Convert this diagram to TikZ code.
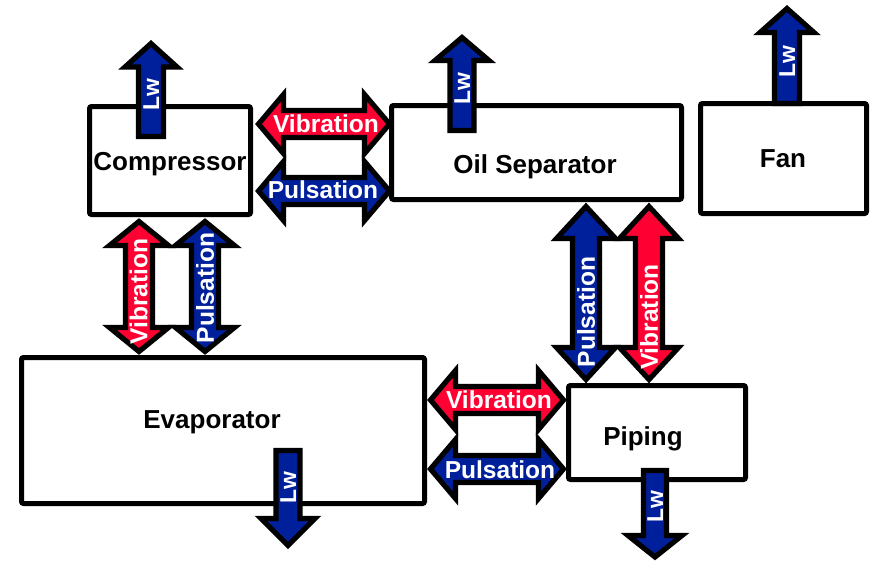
\documentclass[tikz,border=0pt]{standalone}
\usepackage{fontspec}
\setmainfont{Liberation Sans}
\definecolor{vred}{RGB}{255,0,51}
\definecolor{pblue}{RGB}{0,32,155}
\tikzset{
  box/.style={draw=black, line width=3.75pt, rounded corners=1.5pt, fill=white},
  fat/.style={draw=black, line width=3.9pt, line join=miter, miter limit=10},
  lbl/.style={font=\fontsize{19.5}{20}\selectfont\bfseries, text=black, inner sep=0pt, anchor=base},
  atxt/.style={font=\fontsize{18.4}{19}\selectfont\bfseries, text=white, inner sep=0pt, text height=13.2pt, text depth=0pt, anchor=center},
  lwtxt/.style={font=\fontsize{17.2}{18}\selectfont\bfseries, text=white, inner sep=0pt, text height=12.3pt, text depth=0pt, anchor=center, rotate=90},
}
% horizontal double arrow: xl, xr, yc, head length, colour
\newcommand\hdbl[5]{%
  \filldraw[fat, fill=#5] (#1,#3) -- ({#1+#4},{#3-29.5}) -- ({#1+#4},{#3-13.5}) -- ({#2-#4},{#3-13.5}) -- ({#2-#4},{#3-29.5}) -- (#2,#3)
    -- ({#2-#4},{#3+29.5}) -- ({#2-#4},{#3+13.5}) -- ({#1+#4},{#3+13.5}) -- ({#1+#4},{#3+29.5}) -- cycle;}
% vertical double arrow: yt, yb, xc, head length, colour
\newcommand\vdbl[5]{%
  \filldraw[fat, fill=#5] (#3,#1) -- ({#3-29.5},{#1+#4}) -- ({#3-13.5},{#1+#4}) -- ({#3-13.5},{#2-#4}) -- ({#3-29.5},{#2-#4}) -- (#3,#2)
    -- ({#3+29.5},{#2-#4}) -- ({#3+13.5},{#2-#4}) -- ({#3+13.5},{#1+#4}) -- ({#3+29.5},{#1+#4}) -- cycle;}
% single vertical arrow: xc, tip y, head length (signed), shaft end y, head half, shaft half
\newcommand\lwarrow[6]{%
  \filldraw[fat, fill=pblue] (#1,#2) -- ({#1+#5},{#2+#3}) -- ({#1+#6},{#2+#3}) -- ({#1+#6},#4) -- ({#1-#6},#4) -- ({#1-#6},{#2+#3}) -- ({#1-#5},{#2+#3}) -- cycle;}
\begin{document}
\begin{tikzpicture}[x=0.75pt, y=-0.75pt]
\useasboundingbox (0,0) rectangle (875,564);
% boxes
\draw[box] (89.5,106.5) rectangle (250.5,214.5);
\draw[box] (391.5,105.5) rectangle (681.5,199.5);
\draw[box] (700.5,103.5) rectangle (866.5,213.5);
\draw[box] (21.5,357.5) rectangle (424.5,503.5);
\draw[box] (568.5,385.5) rectangle (745.5,479.5);
\node[lbl] (comp) at (170,170) {Compressor};
\node[lbl] (oil) at (535,173) {Oil Separator};
\node[lbl] (fan) at (783,167) {Fan};
\node[lbl] (evap) at (212,428) {Evaporator};
\node[lbl] (pipe) at (643,445) {Piping};
% double arrows
\hdbl{258.5}{389.5}{124}{25}{vred}
\hdbl{258.5}{389.5}{191}{25}{pblue}
\vdbl{221.5}{351.5}{139}{24}{vred}
\vdbl{221.5}{351.5}{205}{24}{pblue}
\vdbl{206.5}{379.5}{586}{32}{pblue}
\vdbl{206.5}{379.5}{649}{32}{vred}
\hdbl{430.5}{563.5}{400}{25}{vred}
\hdbl{430.5}{563.5}{469}{25}{pblue}
\node[atxt] (v1) at (326,124) {Vibration};
\node[atxt] (p1) at (323,190) {Pulsation};
\node[atxt, rotate=90] (v2) at (138.5,291.5) {Vibration};
\node[atxt, rotate=90] (p2) at (205,288) {Pulsation};
\node[atxt, rotate=90] (p3) at (586,312) {Pulsation};
\node[atxt, rotate=90] (v3) at (649,317) {Vibration};
\node[atxt] (v4) at (499,400) {Vibration};
\node[atxt] (p4) at (500,470) {Pulsation};
% Lw arrows
\lwarrow{151}{43.5}{23.5}{136.5}{26}{12.5}
\lwarrow{462}{37.5}{23}{130.5}{27}{12}
\lwarrow{787}{8.5}{24}{103.5}{27}{12.5}
\lwarrow{288}{545.5}{-27}{450.5}{27}{12}
\lwarrow{655}{557}{-21.5}{470.5}{27}{11.5}
\node[lwtxt] (lw1) at (151,95) {Lw};
\node[lwtxt] (lw2) at (462,89) {Lw};
\node[lwtxt] (lw3) at (787,62) {Lw};
\node[lwtxt] (lw4) at (288,488) {Lw};
\node[lwtxt] (lw5) at (655,507) {Lw};
\end{tikzpicture}
\end{document}
